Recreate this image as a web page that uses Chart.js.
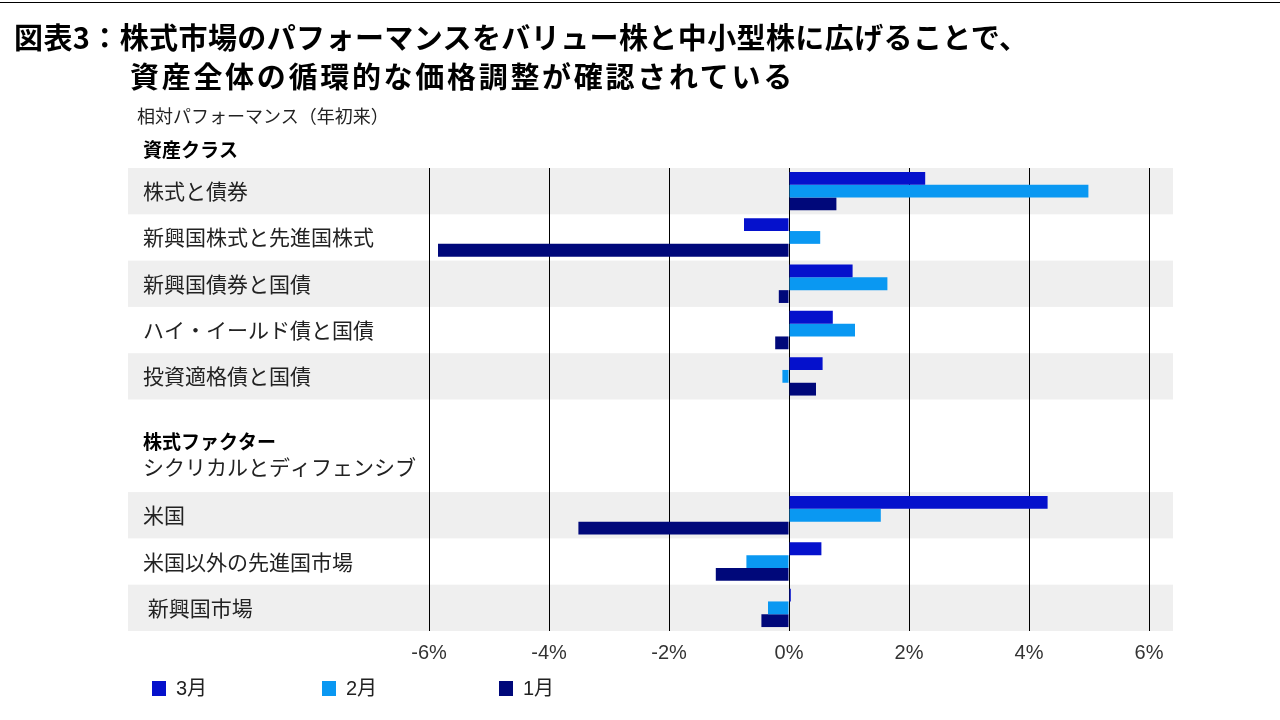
<!DOCTYPE html>
<html lang="ja">
<head>
<meta charset="utf-8">
<script src="https://cdn.jsdelivr.net/npm/chart.js@4.4.1/dist/chart.umd.min.js"></script>
<style>
  html, body { margin: 0; padding: 0; background: #fff; }
  #wrap { position: relative; width: 1280px; height: 720px; overflow: hidden; }
  #topline { position: absolute; left: 0; top: 2px; width: 1280px; height: 1px; background: #000; }
  .t { position: absolute; white-space: nowrap; font-family: "Noto Sans CJK JP", sans-serif; color: #000; }
  #t1 { left: 14px; top: 16px; font-size: 29px; font-weight: 700; line-height: 40px; letter-spacing: 0.4px; }
  #t2 { left: 130px; top: 55px; font-size: 29px; font-weight: 700; line-height: 40px; letter-spacing: 2.7px; }
  #sub { left: 137px; top: 103px; font-size: 18px; line-height: 24px; color: #222; }
  canvas { position: absolute; left: 0; top: 0; }
</style>
</head>
<body>
<div id="wrap">
  <canvas id="c" width="1280" height="720"></canvas>
  <div id="topline"></div>
  <div class="t" id="t1">図表3：株式市場のパフォーマンスをバリュー株と中小型株に広げることで、</div>
  <div class="t" id="t2">資産全体の循環的な価格調整が確認されている</div>
  <div class="t" id="sub">相対パフォーマンス（年初来）</div>
</div>
<script>
// ---- data ----
const categories = ['株式と債券', '新興国株式と先進国株式', '新興国債券と国債', 'ハイ・イールド債と国債', '投資適格債と国債', '', '', '米国', '米国以外の先進国市場', ' 新興国市場'];
const seriesNames = ['3月', '2月', '1月'];
const march = [2.27, -0.75, 1.06, 0.73, 0.56, null, null, 4.31, 0.54, 0.03];
const february = [4.99, 0.52, 1.64, 1.10, -0.11, null, null, 1.53, -0.71, -0.35];
const january = [0.79, -5.85, -0.17, -0.23, 0.45, null, null, -3.51, -1.22, -0.46];
const xTicks = [-6, -4, -2, 0, 2, 4, 6];
const sectionTitle1 = '資産クラス';
const sectionTitle2 = '株式ファクター';
const sectionSub2 = 'シクリカルとディフェンシブ';
const shadedRows = [0, 2, 4, 7, 9];

const colors = ['#0511CC', '#0A98F2', '#00087A'];
const CJK = '"Noto Sans CJK JP", sans-serif';
const LAT = '"Liberation Sans", "Noto Sans CJK JP", sans-serif';

const bandsPlugin = {
  id: 'bands',
  beforeDraw(chart) {
    const ctx = chart.ctx, y = chart.scales.y;
    const step = y.getPixelForValue(1) - y.getPixelForValue(0);
    ctx.save();
    ctx.fillStyle = '#EFEFEF';
    shadedRows.forEach(i => {
      const c = y.getPixelForValue(i);
      ctx.fillRect(128, c - step / 2, 1173 - 128, step);
    });
    ctx.restore();
  }
};

const labelsPlugin = {
  id: 'sectionLabels',
  afterDraw(chart) {
    const ctx = chart.ctx, y = chart.scales.y, area = chart.chartArea;
    ctx.save();
    ctx.textAlign = 'left';
    ctx.textBaseline = 'middle';
    ctx.fillStyle = '#000';
    ctx.font = 'bold 19px ' + CJK;
    ctx.fillText(sectionTitle1, 143, area.top - 18);
    ctx.fillText(sectionTitle2, 143, y.getPixelForValue(5) + 19);
    ctx.fillStyle = '#222';
    ctx.font = '21px ' + CJK;
    ctx.fillText(sectionSub2, 143, y.getPixelForValue(6) - 2);

    // legend
    const lx = [152, 322, 499];
    chart.data.datasets.forEach((ds, i) => {
      ctx.fillStyle = ds.backgroundColor;
      ctx.fillRect(lx[i], 681, 14, 15);
      ctx.fillStyle = '#222';
      ctx.font = '20px ' + LAT;
      ctx.fillText(ds.label, lx[i] + 24, 689);
    });
    ctx.restore();
  }
};

new Chart(document.getElementById('c'), {
  type: 'bar',
  data: {
    labels: categories,
    datasets: [
      { label: seriesNames[0], data: march, backgroundColor: colors[0] },
      { label: seriesNames[1], data: february, backgroundColor: colors[1] },
      { label: seriesNames[2], data: january, backgroundColor: colors[2] }
    ]
  },
  options: {
    indexAxis: 'y',
    responsive: false,
    animation: false,
    devicePixelRatio: 1,
    layout: { padding: { left: 143, right: 131, top: 168, bottom: 49 } },
    datasets: { bar: { categoryPercentage: 0.83, barPercentage: 1.0, borderWidth: 0 } },
    plugins: { legend: { display: false }, tooltip: { enabled: false } },
    scales: {
      x: {
        min: -6, max: 6,
        afterBuildTicks(scale) { scale.ticks = xTicks.map(v => ({ value: v })); },
        afterFit(scale) { scale.height = 40; },
        grid: { color: '#000', lineWidth: 1, drawTicks: false },
        border: { display: false },
        ticks: {
          padding: 10,
          color: '#333',
          font: { family: LAT, size: 20 },
          callback: v => v + '%'
        }
      },
      y: {
        afterFit(scale) { scale.width = 286; },
        grid: { display: false, drawTicks: false },
        border: { display: false },
        ticks: {
          crossAlign: 'far',
          color: '#222',
          font: { family: CJK, size: 21 },
          autoSkip: false
        }
      }
    }
  },
  plugins: [bandsPlugin, labelsPlugin]
});
</script>
</body>
</html>
